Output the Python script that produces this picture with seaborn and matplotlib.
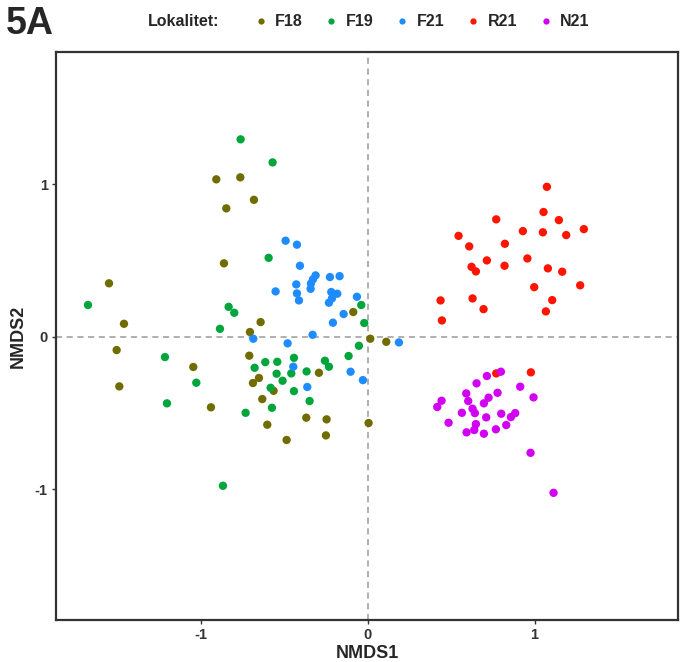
import numpy as np
import pandas as pd
import matplotlib
matplotlib.use("Agg")
import matplotlib.pyplot as plt
import seaborn as sns

# NMDS site scores per locality
f18_x = [-0.910, -0.766, -0.684, -0.850, -0.864, -1.554, -1.464, -0.708, -1.508, -0.712,
         -1.048, -0.690, -1.492, -0.942, -0.644, -0.088, 0.014, 0.110, -0.294, -0.654,
         -0.566, -0.634, -0.370, -0.248, -0.604, 0.004, -0.252, -0.488]
f18_y = [1.031, 1.044, 0.897, 0.841, 0.481, 0.350, 0.085, 0.031, -0.087, -0.124,
         -0.198, -0.303, -0.325, -0.462, 0.096, 0.162, -0.013, -0.033, -0.236, -0.270,
         -0.354, -0.408, -0.530, -0.541, -0.576, -0.565, -0.646, -0.676]

f19_x = [-0.764, -0.572, -1.680, -0.836, -0.802, -0.596, -0.888, -1.218, -0.680, -1.030,
         -1.206, -0.734, -0.870, -0.040, -0.022, -0.054, -0.616, -0.544, -0.444, -0.548,
         -0.460, -0.368, -0.258, -0.234, -0.116, -0.512, -0.584, -0.444, -0.350, -0.576]
f19_y = [1.293, 1.142, 0.208, 0.196, 0.157, 0.517, 0.052, -0.133, -0.203, -0.301,
         -0.436, -0.498, -0.976, 0.208, 0.090, -0.059, -0.166, -0.164, -0.138, -0.242,
         -0.240, -0.227, -0.157, -0.196, -0.126, -0.288, -0.334, -0.356, -0.421, -0.465]

f21_x = [-0.494, -0.426, -0.408, -0.314, -0.330, -0.228, -0.170, -0.430, -0.342, -0.344,
         -0.554, -0.426, -0.414, -0.220, -0.184, -0.216, -0.234, -0.066, -0.146, -0.210,
         -0.688, -0.332, -0.482, 0.186, -0.448, -0.104, -0.030, -0.364]
f21_y = [0.629, 0.603, 0.465, 0.402, 0.376, 0.391, 0.397, 0.343, 0.349, 0.314,
         0.297, 0.284, 0.238, 0.293, 0.282, 0.251, 0.223, 0.262, 0.149, 0.092,
         -0.013, 0.013, -0.043, -0.037, -0.196, -0.229, -0.284, -0.329]

r21_x = [1.074, 1.054, 1.146, 0.770, 0.930, 1.050, 1.190, 1.296, 0.544, 0.608,
         0.822, 0.714, 0.622, 0.648, 0.820, 0.957, 1.080, 1.166, 1.274, 0.998,
         1.106, 1.068, 0.436, 0.628, 0.694, 0.444, 0.770, 0.978]
r21_y = [0.982, 0.817, 0.764, 0.769, 0.692, 0.684, 0.666, 0.705, 0.661, 0.592,
         0.609, 0.500, 0.458, 0.428, 0.465, 0.513, 0.448, 0.426, 0.337, 0.325,
         0.240, 0.166, 0.238, 0.251, 0.181, 0.107, -0.240, -0.233]

n21_x = [0.798, 0.714, 0.652, 0.590, 0.778, 0.914, 0.994, 0.442, 0.416, 0.602,
         0.724, 0.696, 0.628, 0.642, 0.564, 0.710, 0.800, 0.884, 0.858, 0.830,
         0.484, 0.648, 0.638, 0.592, 0.696, 0.768, 0.976, 1.114]
n21_y = [-0.229, -0.257, -0.305, -0.371, -0.367, -0.327, -0.397, -0.419, -0.460, -0.421,
         -0.399, -0.436, -0.471, -0.500, -0.498, -0.528, -0.504, -0.500, -0.526, -0.578,
         -0.563, -0.572, -0.611, -0.626, -0.635, -0.606, -0.760, -1.022]

localities = ["F18", "F19", "F21", "R21", "N21"]
colors = ["#716C00", "#00A63C", "#1E8CFF", "#FF1400", "#D200F2"]

xs = [f18_x, f19_x, f21_x, r21_x, n21_x]
ys = [f18_y, f19_y, f21_y, r21_y, n21_y]
df = pd.concat(
    [pd.DataFrame({"NMDS1": x, "NMDS2": y, "Lokalitet": name})
     for name, x, y in zip(localities, xs, ys)],
    ignore_index=True,
)

sns.set_style("white")
plt.rcParams["font.family"] = ["Liberation Sans", "DejaVu Sans"]
plt.rcParams["axes.unicode_minus"] = False

fig = plt.figure(figsize=(6.8, 6.62), dpi=100)
ax = fig.add_axes([56 / 680, 1 - 620 / 662, (678 - 56) / 680, (620 - 52) / 662])

ax.axhline(0, color="#9a9a9a", lw=1.1, ls=(0, (4, 3)), zorder=0)
ax.axvline(0, color="#9a9a9a", lw=1.1, ls=(0, (4, 3)), zorder=0)

sns.scatterplot(
    data=df, x="NMDS1", y="NMDS2", hue="Lokalitet",
    hue_order=localities, palette=dict(zip(localities, colors)),
    s=36, linewidth=0, ax=ax, zorder=3,
)

ax.set_xlim(-1.872, 1.861)
ax.set_ylim(-1.855, 1.865)
ax.set_xticks([-1, 0, 1])
ax.set_yticks([-1, 0, 1])
ax.tick_params(axis="both", length=3, width=1, color="#333333", labelsize=10.5,
               labelcolor="#333333", pad=3, bottom=True, left=True)
for lab in ax.get_xticklabels() + ax.get_yticklabels():
    lab.set_fontweight("bold")
for sp in ax.spines.values():
    sp.set_color("#333333")
    sp.set_linewidth(1.6)
ax.set_xlabel("NMDS1", fontsize=13, fontweight="bold", labelpad=2)
ax.set_ylabel("NMDS2", fontsize=13, fontweight="bold", labelpad=6)

sns.move_legend(
    ax, "center left", bbox_to_anchor=(243 / 680, 1 - 22 / 662),
    bbox_transform=fig.transFigure, ncol=5, title=None, frameon=False,
    fontsize=11.5, markerscale=0.75, handletextpad=0.3, columnspacing=1.2,
    borderpad=0, handlelength=1.2,
)
for t in ax.get_legend().get_texts():
    t.set_fontweight("bold")

fig.text(148 / 680, 1 - 22 / 662, "Lokalitet:", fontsize=11.5, fontweight="bold",
         ha="left", va="center")
fig.text(6 / 680, 1 - 24 / 662, "5A", fontsize=27, fontweight="bold",
         ha="left", va="center")

fig.savefig("out.png", dpi=100)
